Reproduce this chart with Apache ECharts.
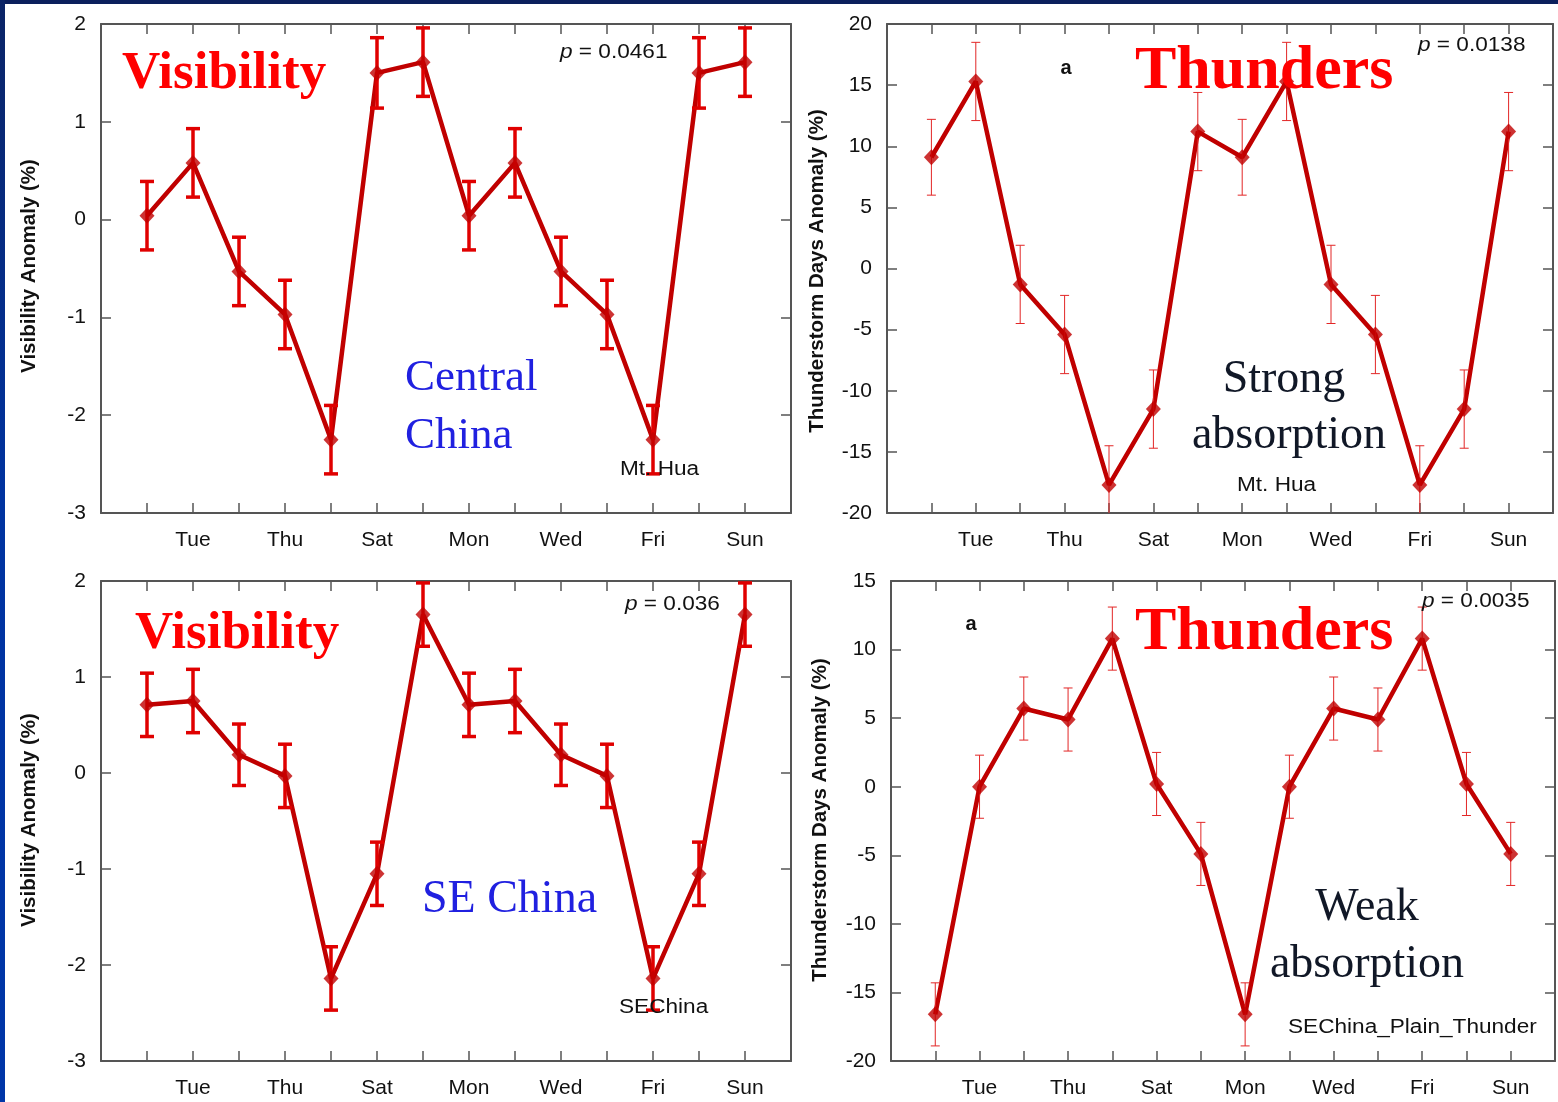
<!DOCTYPE html>
<html>
<head>
<meta charset="utf-8">
<title>Weekly cycle of visibility and thunderstorm days</title>
<script src="https://cdn.jsdelivr.net/npm/echarts@6/dist/echarts.min.js"></script>
<style>
  html, body { margin: 0; padding: 0; background: #fff; }
  #chart { position: absolute; left: 0; top: 0; width: 1558px; height: 1102px; background: #fff; }
  #barTop { position: absolute; left: 0; top: 0; width: 1558px; height: 4px; background: #0b1f5c; }
  #barLeft { position: absolute; left: 0; top: 0; width: 5px; height: 1102px;
             background: linear-gradient(to bottom, #0b2466 0%, #0033a0 45%, #0036a8 100%); }
</style>
</head>
<body>
<div id="chart"></div>
<div id="barTop"></div>
<div id="barLeft"></div>
<script>
// Two consecutive weeks on the x axis (positions 1..14)
const days = ['Mon', 'Tue', 'Wed', 'Thu', 'Fri', 'Sat', 'Sun',
              'Mon', 'Tue', 'Wed', 'Thu', 'Fri', 'Sat', 'Sun'];

// Central China (Mt. Hua): visibility anomaly (%)
const visCentral    = [0.04, 0.58, -0.53, -0.97, -2.25, 1.50, 1.61,
                       0.04, 0.58, -0.53, -0.97, -2.25, 1.50, 1.61];
const visCentralErr = [0.35, 0.35, 0.35, 0.35, 0.35, 0.36, 0.35,
                       0.35, 0.35, 0.35, 0.35, 0.35, 0.36, 0.35];

// Mt. Hua: thunderstorm days anomaly (%)
const thunMtHua     = [9.1, 15.3, -1.3, -5.4, -17.7, -11.5, 11.2,
                       9.1, 15.3, -1.3, -5.4, -17.7, -11.5, 11.2];
const thunMtHuaErr  = [3.1, 3.2, 3.2, 3.2, 3.2, 3.2, 3.2,
                       3.1, 3.2, 3.2, 3.2, 3.2, 3.2, 3.2];

// SE China: visibility anomaly (%)
const visSE         = [0.71, 0.75, 0.19, -0.03, -2.14, -1.05, 1.65,
                       0.71, 0.75, 0.19, -0.03, -2.14, -1.05, 1.65];
const visSEErr      = [0.33, 0.33, 0.32, 0.33, 0.33, 0.33, 0.33,
                       0.33, 0.33, 0.32, 0.33, 0.33, 0.33, 0.33];

// SE China plain: thunderstorm days anomaly (%)
const thunSE        = [-16.6, 0.0, 5.7, 4.9, 10.8, 0.2, -4.9,
                       -16.6, 0.0, 5.7, 4.9, 10.8, 0.2, -4.9];
const thunSEErr     = [2.3, 2.3, 2.3, 2.3, 2.3, 2.3, 2.3,
                       2.3, 2.3, 2.3, 2.3, 2.3, 2.3, 2.3];

const panels = [
  { grid: { left: 101, top: 24,  width: 690, height: 489 }, yMin: -3,  yMax: 2,  yStep: 1, values: visCentral, errs: visCentralErr, thin: false },
  { grid: { left: 887, top: 24,  width: 666, height: 489 }, yMin: -20, yMax: 20, yStep: 5, values: thunMtHua,  errs: thunMtHuaErr,  thin: true  },
  { grid: { left: 101, top: 581, width: 690, height: 480 }, yMin: -3,  yMax: 2,  yStep: 1, values: visSE,      errs: visSEErr,      thin: false },
  { grid: { left: 891, top: 581, width: 666, height: 480 }, yMin: -20, yMax: 15, yStep: 5, values: thunSE,     errs: thunSEErr,     thin: true  }
];

const SANS = '"Liberation Sans", Arial, sans-serif';
const SERIF = '"Liberation Serif", "Times New Roman", serif';
const axisColor = '#555';

const grid = [], xAxis = [], yAxis = [], series = [];

panels.forEach((p, i) => {
  grid.push(Object.assign({ containLabel: false }, p.grid));

  const tick = { show: true, inside: true, length: 10, lineStyle: { color: axisColor, width: 1.5 } };
  const line = { show: true, onZero: false, lineStyle: { color: axisColor, width: 2 } };

  // bottom axis with day labels, plus a mirrored top axis
  xAxis.push({
    gridIndex: i, type: 'value', position: 'bottom', min: 0, max: 15, interval: 1,
    axisLine: line, axisTick: tick, splitLine: { show: false },
    axisLabel: {
      margin: 17, fontSize: 21, color: '#111', fontFamily: SANS,
      formatter: v => (v % 2 === 0 && v > 0 && v < 15) ? days[v - 1] : ''
    }
  });
  xAxis.push({
    gridIndex: i, type: 'value', position: 'top', min: 0, max: 15, interval: 1,
    axisLine: line, axisTick: tick, splitLine: { show: false }, axisLabel: { show: false }
  });

  // left value axis, plus a mirrored right axis
  yAxis.push({
    gridIndex: i, type: 'value', position: 'left', min: p.yMin, max: p.yMax, interval: p.yStep,
    axisLine: line, axisTick: tick, splitLine: { show: false },
    axisLabel: { margin: 15, fontSize: 21, color: '#111', fontFamily: SANS }
  });
  yAxis.push({
    gridIndex: i, type: 'value', position: 'right', min: p.yMin, max: p.yMax, interval: p.yStep,
    axisLine: line, axisTick: tick, splitLine: { show: false }, axisLabel: { show: false }
  });

  const pts = p.values.map((v, k) => [k + 1, v]);

  series.push({
    type: 'line', xAxisIndex: 2 * i, yAxisIndex: 2 * i, data: pts,
    symbol: 'none', z: 2, animation: false,
    lineStyle: { color: '#c00000', width: 4.5 }
  });

  // error bars: value ± half-width with caps
  const barColor = p.thin ? '#e22626' : '#e00000';
  const barWidth = p.thin ? 1 : 3.5;
  const capHalf = p.thin ? 4.5 : 7;
  series.push({
    type: 'custom', xAxisIndex: 2 * i, yAxisIndex: 2 * i, z: 3, animation: false,
    data: p.values.map((v, k) => [k + 1, v - p.errs[k], v + p.errs[k]]),
    renderItem: (params, api) => {
      const cs = params.coordSys;
      const clampY = y => Math.max(cs.y, Math.min(cs.y + cs.height, y));
      const hi = api.coord([api.value(0), api.value(2)]);
      const lo = api.coord([api.value(0), api.value(1)]);
      const x = hi[0];
      const yTop = clampY(hi[1]);
      const yBot = clampY(lo[1]);
      const st = { stroke: barColor, lineWidth: barWidth };
      const children = [
        { type: 'line', shape: { x1: x, y1: yTop, x2: x, y2: yBot }, style: st }
      ];
      if (yTop === hi[1]) children.push({ type: 'line', shape: { x1: x - capHalf, y1: yTop, x2: x + capHalf, y2: yTop }, style: st });
      if (yBot === lo[1]) children.push({ type: 'line', shape: { x1: x - capHalf, y1: yBot, x2: x + capHalf, y2: yBot }, style: st });
      return { type: 'group', children };
    }
  });

  series.push({
    type: 'scatter', xAxisIndex: 2 * i, yAxisIndex: 2 * i, data: pts, z: 4, animation: false,
    symbol: 'diamond', symbolSize: [15, 16], itemStyle: { color: '#c00000' }
  });
});

// plain text; small sans labels are drawn slightly widened
function txt(text, x, y, font, fill, align, sx) {
  return {
    type: 'text', x, y, silent: true, z: 10, scaleX: sx || 1,
    style: { text, font, fill, align: align || 'left', verticalAlign: 'middle' }
  };
}
function small(text, x, y) {
  return txt(text, x, y, '20px ' + SANS, '#111', 'left', 1.13);
}
function vtxt(text, x, y) {
  return {
    type: 'text', x, y, rotation: Math.PI / 2, silent: true, z: 10,
    style: { text, font: 'bold 20.5px ' + SANS, fill: '#111', align: 'center', verticalAlign: 'middle' }
  };
}
function ptxt(value, x, y) {
  return {
    type: 'text', x, y, silent: true, z: 10, scaleX: 1.13,
    style: {
      text: '{i|p} = ' + value, font: '20px ' + SANS, fill: '#111',
      align: 'left', verticalAlign: 'middle',
      rich: { i: { fontStyle: 'italic', fontSize: 20, fontFamily: SANS, fill: '#111' } }
    }
  };
}

const redTitle = '#ff0000';
const blue = '#2020e0';
const dark = '#111827';

const graphic = [
  // axis titles
  vtxt('Visibility Anomaly (%)', 29, 266),
  vtxt('Thunderstorm Days Anomaly (%)', 817, 271),
  vtxt('Visibility Anomaly (%)', 29, 820),
  vtxt('Thunderstorm Days Anomaly (%)', 820, 820),

  // Central China panel
  txt('Visibility', 122, 74, 'bold 53px ' + SERIF, redTitle),
  ptxt('0.0461', 560, 52),
  txt('Central', 405, 378, '45px ' + SERIF, blue),
  txt('China', 405, 436, '45px ' + SERIF, blue),
  small('Mt. Hua', 620, 469),

  // Mt. Hua thunder panel
  txt('a', 1066, 68, 'bold 20px ' + SANS, '#111', 'center'),
  txt('Thunders', 1135, 72, 'bold 62px ' + SERIF, redTitle),
  ptxt('0.0138', 1418, 45),
  txt('Strong', 1284, 380, '46px ' + SERIF, dark, 'center'),
  txt('absorption', 1289, 436, '46px ' + SERIF, dark, 'center'),
  small('Mt. Hua', 1237, 485),

  // SE China panel
  txt('Visibility', 135, 634, 'bold 53px ' + SERIF, redTitle),
  ptxt('0.036', 625, 604),
  txt('SE China', 422, 900, '46px ' + SERIF, blue),
  small('SEChina', 619, 1007),

  // SE China plain thunder panel
  txt('a', 971, 624, 'bold 20px ' + SANS, '#111', 'center'),
  txt('Thunders', 1135, 633, 'bold 62px ' + SERIF, redTitle),
  ptxt('0.0035', 1422, 601),
  txt('Weak', 1367, 908, '46px ' + SERIF, dark, 'center'),
  txt('absorption', 1367, 965, '46px ' + SERIF, dark, 'center'),
  small('SEChina_Plain_Thunder', 1288, 1027)
];

const chart = echarts.init(document.getElementById('chart'), null, { renderer: 'canvas' });
chart.setOption({
  animation: false,
  backgroundColor: '#ffffff',
  grid, xAxis, yAxis, series, graphic
});
</script>
</body>
</html>
